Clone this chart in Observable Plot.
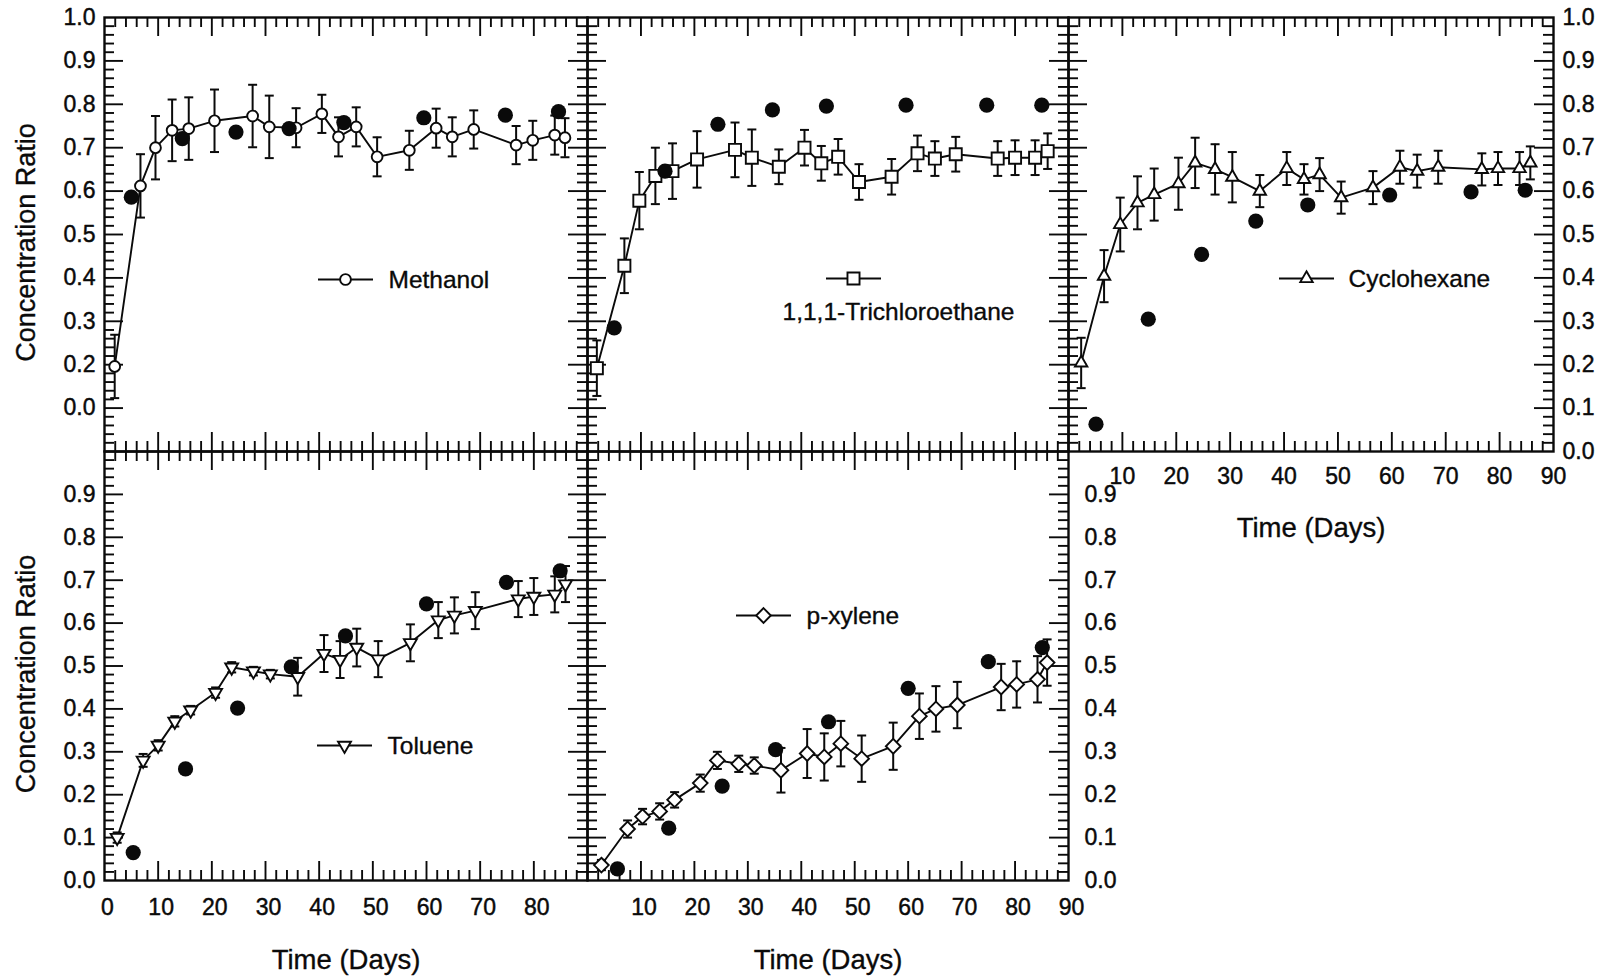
<!DOCTYPE html>
<html>
<head>
<meta charset="utf-8">
<script src="https://cdn.jsdelivr.net/npm/d3@7"></script>
<script src="https://cdn.jsdelivr.net/npm/@observablehq/plot@0.6"></script>
<style>
  html, body { margin: 0; padding: 0; background: #fff; }
  #chart { position: relative; width: 1606px; height: 980px; background: #fff; overflow: hidden; }
  #chart > div { position: absolute; }
</style>
</head>
<body>
<div id="chart"></div>
<script>
// ---------------- DATA ----------------
// Methanol
const methanolDays  = [1.9, 6.7, 9.5, 12.6, 15.7, 20.5, 27.6, 30.7, 35.7, 40.5, 43.6, 46.9, 50.8, 56.8, 61.8, 64.8, 68.8, 76.7, 79.8, 83.9, 85.8];
const methanolRatio = [0.196, 0.612, 0.700, 0.740, 0.744, 0.762, 0.773, 0.748, 0.746, 0.778, 0.725, 0.748, 0.679, 0.694, 0.745, 0.725, 0.742, 0.706, 0.717, 0.729, 0.723];
const methanolErr   = [0.073, 0.073, 0.073, 0.071, 0.072, 0.072, 0.072, 0.072, 0.045, 0.044, 0.045, 0.045, 0.045, 0.045, 0.045, 0.045, 0.044, 0.044, 0.045, 0.045, 0.045];
const methanolFilledDays  = [5.0, 14.5, 24.5, 34.4, 44.6, 59.5, 74.7, 84.6];
const methanolFilledRatio = [0.586, 0.721, 0.736, 0.744, 0.758, 0.769, 0.775, 0.783];

// 1,1,1-Trichloroethane
const tcaDays  = [1.75, 6.9, 9.7, 12.7, 15.9, 20.5, 27.6, 30.75, 35.8, 40.6, 43.75, 46.9, 50.8, 56.9, 61.75, 65.0, 68.9, 76.75, 80.0, 83.75, 86.1];
const tcaRatio = [0.192, 0.428, 0.578, 0.635, 0.646, 0.673, 0.695, 0.677, 0.656, 0.700, 0.664, 0.679, 0.621, 0.633, 0.687, 0.675, 0.685, 0.675, 0.677, 0.677, 0.692];
const tcaErr   = [0.064, 0.063, 0.066, 0.065, 0.064, 0.065, 0.063, 0.065, 0.040, 0.041, 0.040, 0.041, 0.041, 0.041, 0.041, 0.040, 0.040, 0.040, 0.040, 0.040, 0.041];
const tcaFilledDays  = [5.0, 14.5, 24.4, 34.6, 44.7, 59.6, 74.7, 85.0];
const tcaFilledRatio = [0.285, 0.646, 0.754, 0.787, 0.796, 0.798, 0.798, 0.798];

// Cyclohexane
const cyclohexaneDays  = [2.35, 6.6, 9.6, 12.8, 15.9, 20.4, 23.5, 27.2, 30.4, 35.5, 40.5, 43.7, 46.6, 50.6, 56.5, 61.5, 64.7, 68.6, 76.7, 79.7, 83.7, 85.7];
const cyclohexaneRatio = [0.204, 0.404, 0.523, 0.573, 0.592, 0.617, 0.665, 0.650, 0.632, 0.600, 0.652, 0.627, 0.638, 0.585, 0.608, 0.655, 0.646, 0.655, 0.650, 0.652, 0.652, 0.665];
const cyclohexaneErr   = [0.058, 0.060, 0.062, 0.061, 0.060, 0.060, 0.058, 0.058, 0.058, 0.037, 0.038, 0.035, 0.038, 0.037, 0.038, 0.038, 0.038, 0.038, 0.037, 0.038, 0.038, 0.038];
const cyclohexaneFilledDays  = [5.1, 14.8, 24.7, 34.75, 44.4, 59.6, 74.7, 84.75];
const cyclohexaneFilledRatio = [0.063, 0.305, 0.454, 0.531, 0.568, 0.591, 0.598, 0.602];

// Toluene
const tolueneDays  = [2.36, 7.2, 10.0, 13.1, 16.05, 20.7, 23.7, 27.75, 30.9, 36.0, 40.9, 43.9, 47.0, 51.0, 57.0, 62.2, 65.2, 69.1, 77.1, 80.0, 83.9, 85.9];
const tolueneRatio = [0.100, 0.280, 0.315, 0.371, 0.397, 0.438, 0.497, 0.488, 0.481, 0.475, 0.529, 0.515, 0.543, 0.516, 0.554, 0.607, 0.618, 0.629, 0.656, 0.662, 0.667, 0.691];
const tolueneErr   = [0.012, 0.015, 0.012, 0.012, 0.010, 0.012, 0.012, 0.010, 0.010, 0.044, 0.043, 0.043, 0.044, 0.042, 0.043, 0.042, 0.042, 0.043, 0.042, 0.043, 0.042, 0.042];
const tolueneFilledDays  = [5.35, 15.1, 24.8, 34.8, 44.9, 60.0, 74.9, 84.9];
const tolueneFilledRatio = [0.065, 0.260, 0.402, 0.498, 0.570, 0.645, 0.695, 0.722];

// p-xylene
const xyleneDays  = [2.6, 7.5, 10.3, 13.5, 16.3, 21.1, 24.3, 28.3, 31.2, 36.2, 41.1, 44.3, 47.4, 51.3, 57.2, 62.1, 65.2, 69.2, 77.4, 80.3, 84.2, 86.0];
const xyleneRatio = [0.036, 0.120, 0.149, 0.161, 0.188, 0.227, 0.280, 0.272, 0.268, 0.257, 0.296, 0.288, 0.319, 0.284, 0.313, 0.383, 0.400, 0.409, 0.451, 0.457, 0.469, 0.508];
const xyleneErr   = [0.012, 0.020, 0.018, 0.019, 0.018, 0.020, 0.020, 0.019, 0.019, 0.052, 0.057, 0.055, 0.053, 0.054, 0.055, 0.053, 0.053, 0.054, 0.054, 0.054, 0.054, 0.054];
const xyleneFilledDays  = [5.6, 15.2, 25.2, 35.2, 45.1, 60.0, 75.0, 85.1];
const xyleneFilledRatio = [0.027, 0.122, 0.220, 0.305, 0.370, 0.448, 0.510, 0.543];

// Tick labels
const yTopLeftTickValues  = [1.0, 0.9, 0.8, 0.7, 0.6, 0.5, 0.4, 0.3, 0.2, 0.1];
const yTopLeftTickLabels  = ["1.0", "0.9", "0.8", "0.7", "0.6", "0.5", "0.4", "0.3", "0.2", "0.0"];
const yTopRightTickValues = [1.0, 0.9, 0.8, 0.7, 0.6, 0.5, 0.4, 0.3, 0.2, 0.1, 0.0];
const yTopRightTickLabels = ["1.0", "0.9", "0.8", "0.7", "0.6", "0.5", "0.4", "0.3", "0.2", "0.1", "0.0"];
const yBottomTickValues   = [0.9, 0.8, 0.7, 0.6, 0.5, 0.4, 0.3, 0.2, 0.1, 0.0];
const yBottomTickLabels   = ["0.9", "0.8", "0.7", "0.6", "0.5", "0.4", "0.3", "0.2", "0.1", "0.0"];
const xFromZeroTickValues = [0, 10, 20, 30, 40, 50, 60, 70, 80];
const xFromZeroTickLabels = ["0", "10", "20", "30", "40", "50", "60", "70", "80"];
const xFromTenTickValues  = [10, 20, 30, 40, 50, 60, 70, 80, 90];
const xFromTenTickLabels  = ["10", "20", "30", "40", "50", "60", "70", "80", "90"];
const xAxisTitle = "Time (Days)";
const yAxisTitle = "Concentration Ratio";

// ---------------- LAYOUT ----------------
const layout = {
  cols: [{left: 104, width: 483}, {left: 587, width: 481}, {left: 1068, width: 485}],
  rows: [{top: 17, height: 434}, {top: 451, height: 429}],
  margin: 100
};
const FONT = "'Liberation Sans', Arial, Helvetica, sans-serif";
const ink = "#0a0a0a";
const TICK_SQUEEZE = 0.8;

const xMajor = d3.range(10, 90, 10);
const xMinor = d3.range(2, 90, 2).filter(d => d % 10 !== 0);
const yMajor = d3.range(1, 10).map(i => i / 10);
const yMinor = d3.range(1, 50).filter(i => i % 5 !== 0).map(i => i / 50);

// custom symbols
const capSymbol = {draw(ctx) { ctx.moveTo(-4.5, 0); ctx.lineTo(4.5, 0); }};
const legendLine = {draw(ctx) { ctx.moveTo(-27.5, 0); ctx.lineTo(27.5, 0); }};
const invTriangle = {draw(ctx, size) {
  const y = -Math.sqrt(size / (3 * Math.sqrt(3)));
  ctx.moveTo(0, -y * 2);
  ctx.lineTo(-Math.sqrt(3) * y, y);
  ctx.lineTo(Math.sqrt(3) * y, y);
  ctx.closePath();
}};

const panels = [
  {name: "Methanol", col: 0, row: 0, days: methanolDays, ratio: methanolRatio, err: methanolErr,
   fDays: methanolFilledDays, fRatio: methanolFilledRatio, symbol: "circle", r: 5.4,
   legend: {mx: 241, my: 262, tx: 284, ty: 263, anchor: "start"},
   yLabels: {side: "left", values: yTopLeftTickValues, labels: yTopLeftTickLabels, dx: -9},
   xLabels: null, xTitle: null, yTitle: true},
  {name: "1,1,1-Trichloroethane", col: 1, row: 0, days: tcaDays, ratio: tcaRatio, err: tcaErr,
   fDays: tcaFilledDays, fRatio: tcaFilledRatio, symbol: "square", r: 6.8,
   legend: {mx: 266, my: 261, tx: 311, ty: 295, anchor: "middle"},
   yLabels: null, xLabels: null, xTitle: null, yTitle: false},
  {name: "Cyclohexane", col: 2, row: 0, days: cyclohexaneDays, ratio: cyclohexaneRatio, err: cyclohexaneErr,
   fDays: cyclohexaneFilledDays, fRatio: cyclohexaneFilledRatio, symbol: "triangle", r: 4.6,
   legend: {mx: 238, my: 261, tx: 280, ty: 262, anchor: "start"},
   yLabels: {side: "right", values: yTopRightTickValues, labels: yTopRightTickLabels, dx: 9},
   xLabels: {values: xFromTenTickValues, labels: xFromTenTickLabels, dy: 25, dx: 0}, xTitle: 77, yTitle: false},
  {name: "Toluene", col: 0, row: 1, days: tolueneDays, ratio: tolueneRatio, err: tolueneErr,
   fDays: tolueneFilledDays, fRatio: tolueneFilledRatio, symbol: invTriangle, r: 4.8,
   legend: {mx: 240, my: 294, tx: 283, ty: 295, anchor: "start"},
   yLabels: {side: "left", values: yBottomTickValues, labels: yBottomTickLabels, dx: -9},
   xLabels: {values: xFromZeroTickValues, labels: xFromZeroTickLabels, dy: 27, dx: 3}, xTitle: 80, yTitle: true},
  {name: "p-xylene", col: 1, row: 1, days: xyleneDays, ratio: xyleneRatio, err: xyleneErr,
   fDays: xyleneFilledDays, fRatio: xyleneFilledRatio, symbol: "diamond2", r: 6.6,
   legend: {mx: 176, my: 164, tx: 219, ty: 165, anchor: "start"},
   yLabels: {side: "right", values: yBottomTickValues, labels: yBottomTickLabels, dx: 16},
   xLabels: {values: xFromTenTickValues, labels: xFromTenTickLabels, dy: 27, dx: 3}, xTitle: 80, yTitle: false}
];

const chart = document.getElementById("chart");

// narrow the tick-label glyphs (the original uses a condensed face)
function squeezeText(svg, label, s) {
  d3.select(svg).selectAll(`g[aria-label="${label}"] text`).each(function () {
    const t = this.getAttribute("transform");
    if (t) {
      this.setAttribute("transform", t + ` scale(${s},1)`);
    } else {
      const x = +(this.getAttribute("x") || 0), y = +(this.getAttribute("y") || 0);
      this.removeAttribute("x"); this.removeAttribute("y");
      this.setAttribute("transform", `translate(${x},${y}) scale(${s},1)`);
    }
  });
}

function drawPanel(p) {
  const {left: L, width: W} = layout.cols[p.col];
  const {top: T, height: H} = layout.rows[p.row];
  const M = layout.margin;
  const obs = p.days.map((d, i) => ({day: d, ratio: p.ratio[i], err: p.err[i]}));
  const fil = p.fDays.map((d, i) => ({day: d, ratio: p.fRatio[i]}));
  const majLen = 19, minLen = 10, tw = 1.9;
  const marks = [
    // inward ticks on all four sides
    Plot.tickX(xMajor, {x: d => d, insetTop: H - majLen, stroke: ink, strokeWidth: tw}),
    Plot.tickX(xMinor, {x: d => d, insetTop: H - minLen, stroke: ink, strokeWidth: tw}),
    Plot.tickX(xMajor, {x: d => d, insetBottom: H - majLen, stroke: ink, strokeWidth: tw}),
    Plot.tickX(xMinor, {x: d => d, insetBottom: H - minLen, stroke: ink, strokeWidth: tw}),
    Plot.tickY(yMajor, {y: d => d, insetRight: W - majLen, stroke: ink, strokeWidth: tw}),
    Plot.tickY(yMinor, {y: d => d, insetRight: W - minLen, stroke: ink, strokeWidth: tw}),
    Plot.tickY(yMajor, {y: d => d, insetLeft: W - majLen, stroke: ink, strokeWidth: tw}),
    Plot.tickY(yMinor, {y: d => d, insetLeft: W - minLen, stroke: ink, strokeWidth: tw}),
    Plot.frame({stroke: ink, strokeWidth: 2.4}),
    // error bars
    Plot.ruleX(obs, {x: "day", y1: d => d.ratio - d.err, y2: d => d.ratio + d.err, stroke: ink, strokeWidth: 2}),
    Plot.dot(obs, {x: "day", y: d => d.ratio + d.err, symbol: capSymbol, r: 3, fill: "none", stroke: ink, strokeWidth: 2}),
    Plot.dot(obs, {x: "day", y: d => d.ratio - d.err, symbol: capSymbol, r: 3, fill: "none", stroke: ink, strokeWidth: 2}),
    // connecting line + open markers
    Plot.line(obs, {x: "day", y: "ratio", stroke: ink, strokeWidth: 1.9}),
    Plot.dot(obs, {x: "day", y: "ratio", symbol: p.symbol, r: p.r, fill: "#fff", stroke: ink, strokeWidth: 1.9}),
    // filled circles
    Plot.dot(fil, {x: "day", y: "ratio", symbol: "circle", r: 7.6, fill: ink, stroke: "none"}),
    // in-panel legend
    Plot.dot([p.name], {frameAnchor: "top-left", dx: p.legend.mx, dy: p.legend.my, symbol: legendLine, r: 3, fill: "none", stroke: ink, strokeWidth: 1.9}),
    Plot.dot([p.name], {frameAnchor: "top-left", dx: p.legend.mx, dy: p.legend.my, symbol: p.symbol, r: p.r, fill: "#fff", stroke: ink, strokeWidth: 1.9}),
    Plot.text([p.name], {frameAnchor: "top-left", dx: p.legend.tx, dy: p.legend.ty, text: d => d,
      textAnchor: p.legend.anchor, lineAnchor: "middle", fontSize: 24.5, fontFamily: FONT, fill: ink, stroke: ink, strokeWidth: 0.35})
  ];
  if (p.yLabels) {
    const left = p.yLabels.side === "left";
    marks.push(Plot.text(p.yLabels.values, {
      y: d => d, text: (d, i) => p.yLabels.labels[i],
      frameAnchor: left ? "left" : "right", textAnchor: left ? "end" : "start", lineAnchor: "middle",
      dx: p.yLabels.dx, fontSize: 23, fontFamily: FONT, fill: ink, stroke: ink, strokeWidth: 0.45,
      ariaLabel: "tick-labels"
    }));
  }
  if (p.xLabels) {
    marks.push(Plot.text(p.xLabels.values, {
      x: d => d, text: (d, i) => p.xLabels.labels[i],
      frameAnchor: "bottom", textAnchor: "middle", lineAnchor: "middle",
      dy: p.xLabels.dy, dx: p.xLabels.dx, fontSize: 23, fontFamily: FONT, fill: ink, stroke: ink, strokeWidth: 0.45,
      ariaLabel: "tick-labels"
    }));
  }
  if (p.xTitle) {
    marks.push(Plot.text([xAxisTitle], {frameAnchor: "bottom", textAnchor: "middle", lineAnchor: "middle",
      dy: p.xTitle, text: d => d, fontSize: 27.5, fontFamily: FONT, fill: ink, stroke: ink, strokeWidth: 0.35}));
  }
  if (p.yTitle) {
    marks.push(Plot.text([yAxisTitle], {frameAnchor: "left", textAnchor: "middle", lineAnchor: "middle",
      dx: -78, dy: 8, rotate: -90, text: d => d, fontSize: 27, fontFamily: FONT, fill: ink, stroke: ink, strokeWidth: 0.35}));
  }
  const svg = Plot.plot({
    width: W + 2 * M, height: H + 2 * M, margin: M,
    x: {domain: [0, 90], axis: null},
    y: {domain: [0, 1], axis: null},
    style: {background: "transparent", overflow: "visible", maxWidth: "none", fontFamily: FONT},
    marks
  });
  squeezeText(svg, "tick-labels", TICK_SQUEEZE);
  const div = document.createElement("div");
  div.style.left = (L - M) + "px";
  div.style.top = (T - M) + "px";
  div.style.width = (W + 2 * M) + "px";
  div.style.height = (H + 2 * M) + "px";
  div.appendChild(svg);
  chart.appendChild(div);
}

panels.forEach(drawPanel);
</script>
</body>
</html>
